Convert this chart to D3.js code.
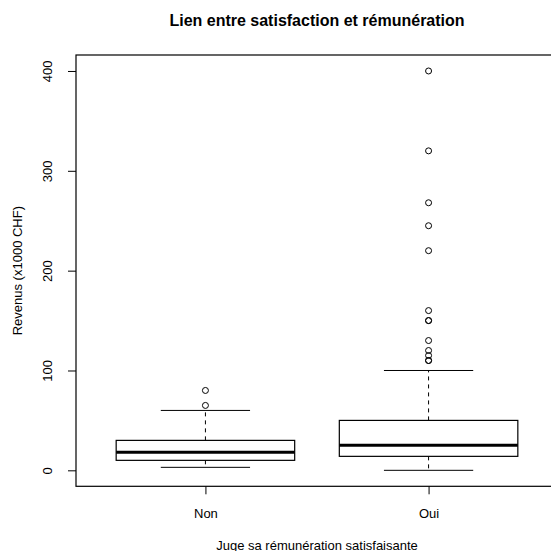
<!DOCTYPE html>
<html>
<head>
<meta charset="utf-8">
<script src="https://cdn.jsdelivr.net/npm/d3@7"></script>
<style>
  html, body { margin: 0; padding: 0; background: #ffffff; }
  svg { display: block; }
  text { font-family: "Liberation Sans", Arial, Helvetica, sans-serif; fill: #000; }
</style>
</head>
<body>
<script>
// ---- data ----
const categories = ["Non", "Oui"];
const whiskerLow = [3, 0];
const q1 = [10, 14];
const median = [18, 25];
const q3 = [30, 50];
const whiskerHigh = [60, 100];
const outliersNon = [65, 80];
const outliersOui = [400, 320, 268, 245, 220, 160, 150, 150, 130, 120, 115, 110, 110];
const yTicks = [0, 100, 200, 300, 400];
const titleText = "Lien entre satisfaction et rémunération";
const xTitle = "Juge sa rémunération satisfaisante";
const yTitle = "Revenus (x1000 CHF)";

const outliers = [outliersNon, outliersOui];

// ---- layout ----
const W = 551, H = 551;
const svg = d3.select("body").append("svg").attr("width", W).attr("height", H);

const x = d3.scaleLinear().domain([0.42, 2.58]).range([76, 558]);
const y = d3.scaleLinear().domain([-16, 416]).range([486.3, 55]);

const boxHalf = 0.4, capHalf = 0.2;
const axisFont = "13px";

const g = svg.append("g");

categories.forEach((c, i) => {
  const cx = i + 1;
  const grp = g.append("g");
  grp.append("line")
    .attr("x1", x(cx)).attr("x2", x(cx))
    .attr("y1", y(q3[i])).attr("y2", y(whiskerHigh[i]))
    .attr("stroke", "#000").attr("stroke-width", 1).attr("stroke-dasharray", "4,4");
  grp.append("line")
    .attr("x1", x(cx)).attr("x2", x(cx))
    .attr("y1", y(q1[i])).attr("y2", y(whiskerLow[i]))
    .attr("stroke", "#000").attr("stroke-width", 1).attr("stroke-dasharray", "4,4");
  [whiskerLow[i], whiskerHigh[i]].forEach(v => {
    grp.append("line")
      .attr("x1", x(cx - capHalf)).attr("x2", x(cx + capHalf))
      .attr("y1", y(v)).attr("y2", y(v))
      .attr("stroke", "#000").attr("stroke-width", 1);
  });
  grp.append("rect")
    .attr("x", x(cx - boxHalf)).attr("width", x(cx + boxHalf) - x(cx - boxHalf))
    .attr("y", y(q3[i])).attr("height", y(q1[i]) - y(q3[i]))
    .attr("fill", "none").attr("stroke", "#000").attr("stroke-width", 1.2);
  grp.append("line")
    .attr("x1", x(cx - boxHalf)).attr("x2", x(cx + boxHalf))
    .attr("y1", y(median[i])).attr("y2", y(median[i]))
    .attr("stroke", "#000").attr("stroke-width", 3);
  grp.selectAll("circle").data(outliers[i]).enter().append("circle")
    .attr("cx", x(cx)).attr("cy", d => y(d)).attr("r", 3)
    .attr("fill", "none").attr("stroke", "#000").attr("stroke-width", 1);
});

// frame
svg.append("rect")
  .attr("x", x(0.42)).attr("y", y(416))
  .attr("width", x(2.58) - x(0.42)).attr("height", y(-16) - y(416))
  .attr("fill", "none").attr("stroke", "#000").attr("stroke-width", 1.2);

// y axis
const yAxis = d3.axisLeft(y).tickValues(yTicks).tickSize(8).tickPadding(0).tickFormat(d3.format("d"));
const ya = svg.append("g").attr("transform", `translate(${x(0.42)},0)`).call(yAxis);
ya.select(".domain").remove();
ya.selectAll(".tick line").attr("stroke", "#000").attr("stroke-width", 1);
ya.selectAll(".tick text")
  .attr("x", 0).attr("y", 0)
  .attr("transform", "translate(-24,0) rotate(-90)")
  .attr("text-anchor", "middle")
  .attr("dy", 0)
  .style("font-size", axisFont)
  .style("font-family", '"Liberation Sans", Arial, sans-serif');

// x axis
const xAxis = d3.axisBottom(x).tickValues([1, 2]).tickSize(8).tickPadding(0).tickFormat((d, i) => categories[i]);
const xa = svg.append("g").attr("transform", `translate(0,${y(-16)})`).call(xAxis);
xa.select(".domain").remove();
xa.selectAll(".tick line").attr("stroke", "#000").attr("stroke-width", 1);
xa.selectAll(".tick text")
  .attr("y", 32).attr("dy", 0)
  .style("font-size", axisFont)
  .style("font-family", '"Liberation Sans", Arial, sans-serif');

// titles
svg.append("text")
  .attr("x", (x(0.42) + x(2.58)) / 2).attr("y", 26)
  .attr("text-anchor", "middle")
  .style("font-size", "16px").style("font-weight", "bold")
  .text(titleText);

svg.append("text")
  .attr("x", (x(0.42) + x(2.58)) / 2).attr("y", 549.5)
  .attr("text-anchor", "middle")
  .style("font-size", axisFont)
  .text(xTitle);

svg.append("text")
  .attr("transform", `translate(22,${(y(416) + y(-16)) / 2}) rotate(-90)`)
  .attr("text-anchor", "middle")
  .style("font-size", axisFont)
  .text(yTitle);
</script>
</body>
</html>
